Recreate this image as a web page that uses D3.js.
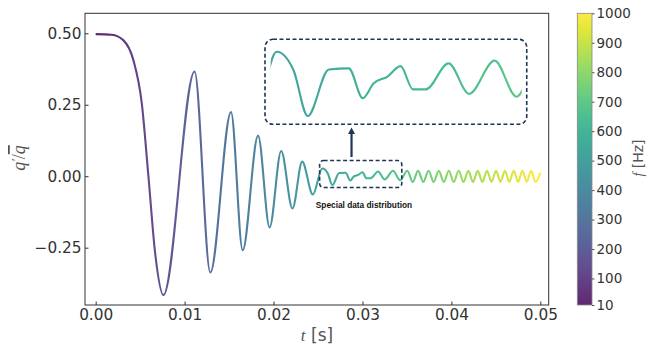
<!DOCTYPE html>
<html><head><meta charset="utf-8">
<script src="https://cdn.jsdelivr.net/npm/d3@7"></script>
<style>body{margin:0;background:#fff} svg{display:block}</style>
</head><body>
<svg id="chart" width="654" height="349"></svg>
<script>
// ---------- data ----------
const timeS = [
  0.0000, 0.0018, 0.0031, 0.00424, 0.00519, 0.00593, 0.00669, 0.00762,
  0.01112, 0.01289, 0.01522, 0.01653, 0.01826, 0.01956, 0.02086, 0.02213,
  0.02322, 0.02442, 0.02548, 0.02609, 0.02661, 0.02738, 0.02811, 0.02862,
  0.02902, 0.02951, 0.03000, 0.03045, 0.03092, 0.03175, 0.03250, 0.03343,
  0.03423, 0.03505, 0.03565, 0.03625, 0.03684, 0.03743, 0.03800, 0.03858,
  0.03914, 0.03971, 0.04026, 0.04082, 0.04136, 0.04190, 0.04243, 0.04296,
  0.04348, 0.04400, 0.04451, 0.04502, 0.04552, 0.04602, 0.04651, 0.04701,
  0.04750, 0.04799, 0.04848, 0.04896, 0.04945, 0.05000
];
const qRatio = [
  0.497, 0.495, 0.476, 0.406, 0.254, 0.000, -0.270, -0.416,
  0.366, -0.337, 0.224, -0.259, 0.142, -0.179, 0.088, -0.113,
  0.051, -0.064, 0.027, 0.0105, -0.031, 0.011, 0.012, -0.015,
  -0.0015, 0.0044, 0.014, -0.007, -0.007, 0.0165, -0.011, 0.019,
  -0.0136, 0.019, -0.020, 0.019, -0.020, 0.019, -0.020, 0.019,
  -0.020, 0.019, -0.020, 0.019, -0.020, 0.019, -0.020, 0.019,
  -0.020, 0.019, -0.020, 0.019, -0.020, 0.019, -0.020, 0.019,
  -0.020, 0.019, -0.020, 0.019, -0.020, 0.012
];
const xTicks = [0, 0.01, 0.02, 0.03, 0.04, 0.05];
const yTicks = [-0.25, 0, 0.25, 0.5];
const freqTicks = [10, 100, 200, 300, 400, 500, 600, 700, 800, 900, 1000];
const freqRange = [10, 1000];
const timeRange = [0, 0.05];
const zoomT = [0.02518, 0.03442];      // highlighted window (time)
const zoomQ = [-0.0395, 0.055];       // highlighted window (value)
const insetStartT = 0.02526;          // first time shown in the inset curve
const insetT = [0.01904, 0.04847];    // inset frame (main-axes data units)
const insetQ = [0.1815, 0.4788];
const insetCurveQ = [-0.031, 0.027];  // values spanned by the inset curve
const arrowT = 0.02877, arrowQ = [0.067, 0.170];
const noteT = 0.03017, noteQ = -0.111;
const noteText = "Special data distribution";

// ---------- layout ----------
const L = 85, R = 548.7, T = 13.3, B = 305;
const svg = d3.select("#chart");
const x = d3.scaleLinear().domain([-0.0012, 0.05094]).range([L, R]);
const y = d3.scaleLinear().domain([-0.4505, 0.5698]).range([B, T]);
const OPA = 0.85;
const data = timeS.map((t, i) => ({t, q: qRatio[i]}));

const defs = svg.append("defs");
function grad(id, x1, x2) {
  const g = defs.append("linearGradient").attr("id", id)
    .attr("gradientUnits", "userSpaceOnUse")
    .attr("x1", x1).attr("x2", x2).attr("y1", 0).attr("y2", 0);
  d3.range(0, 1.0001, 0.05).forEach(f => g.append("stop")
    .attr("offset", f).attr("stop-color", d3.interpolateViridis(f)));
}
grad("lineGrad", x(timeRange[0]), x(timeRange[1]));

// axes frame
svg.append("rect").attr("x", L).attr("y", T).attr("width", R - L).attr("height", B - T)
  .attr("fill", "none").attr("stroke", "#333").attr("stroke-width", 1);

const fontTick = "'DejaVu Sans', sans-serif";
const xAxis = svg.append("g").attr("transform", `translate(0,${B})`)
  .call(d3.axisBottom(x).tickValues(xTicks).tickFormat(d3.format(".2f")).tickSize(-3.5).tickPadding(4));
const yAxis = svg.append("g").attr("transform", `translate(${L},0)`)
  .call(d3.axisLeft(y).tickValues(yTicks).tickFormat(d3.format(".2f")).tickSize(-3.5).tickPadding(3.5));
[xAxis, yAxis].forEach(a => {
  a.select(".domain").remove();
  a.selectAll(".tick line").attr("stroke", "#333");
  a.selectAll(".tick text").attr("fill", "#333").style("font-family", fontTick).style("font-size", "15.3px");
});

// main curve
const line = d3.line().x(d => x(d.t)).y(d => y(d.q)).curve(d3.curveMonotoneX);
svg.append("path").datum(data).attr("d", line)
  .attr("fill", "none").attr("stroke", "url(#lineGrad)").attr("stroke-opacity", OPA)
  .attr("stroke-width", 2.1).attr("stroke-linejoin", "round");

// highlight window
const navy = "#1d3557";
svg.append("rect").attr("x", x(zoomT[0])).attr("y", y(zoomQ[1]))
  .attr("width", x(zoomT[1]) - x(zoomT[0])).attr("height", y(zoomQ[0]) - y(zoomQ[1]))
  .attr("rx", 4).attr("fill", "none").attr("stroke", navy).attr("stroke-width", 1.6)
  .attr("stroke-dasharray", "4,2.5");

// inset frame
const ix0 = x(insetT[0]), ix1 = x(insetT[1]), iy0 = y(insetQ[1]), iy1 = y(insetQ[0]);
svg.append("rect").attr("x", ix0).attr("y", iy0).attr("width", ix1 - ix0).attr("height", iy1 - iy0)
  .attr("rx", 8).attr("fill", "none").attr("stroke", navy).attr("stroke-width", 1.6)
  .attr("stroke-dasharray", "4,2.5");

// inset curve
const xi = d3.scaleLinear().domain(zoomT).range([ix0 + 3.5, ix1 - 5]);
const yi = d3.scaleLinear().domain(insetCurveQ).range([iy1 - 8.3, iy0 + 12.4]);
grad("insetGrad", xi(timeRange[0]), xi(timeRange[1]));
defs.append("clipPath").attr("id", "insetClip").append("rect")
  .attr("x", xi(insetStartT)).attr("y", iy0).attr("width", xi(zoomT[1]) - xi(insetStartT)).attr("height", iy1 - iy0);
const lineI = d3.line().x(d => xi(d.t)).y(d => yi(d.q)).curve(d3.curveMonotoneX);
svg.append("path").datum(data).attr("d", lineI).attr("clip-path", "url(#insetClip)")
  .attr("fill", "none").attr("stroke", "url(#insetGrad)").attr("stroke-opacity", OPA)
  .attr("stroke-width", 2.1).attr("stroke-linejoin", "round");

// arrow
const ax = x(arrowT), ayB = y(arrowQ[0]), ayT = y(arrowQ[1]);
svg.append("line").attr("x1", ax).attr("x2", ax).attr("y1", ayB).attr("y2", ayT + 5)
  .attr("stroke", navy).attr("stroke-width", 2.2);
svg.append("path").attr("d", `M${ax},${ayT} L${ax - 3.5},${ayT + 6.5} L${ax + 3.5},${ayT + 6.5} Z`)
  .attr("fill", navy);

// note
svg.append("text").attr("x", x(noteT)).attr("y", y(noteQ)).attr("text-anchor", "middle")
  .style("font-family", "'Liberation Sans', Arial, sans-serif").style("font-weight", "bold")
  .style("font-size", "8.3px").attr("fill", "#111").text(noteText);

// axis labels
const xl = svg.append("text").attr("x", 317).attr("y", 341).attr("text-anchor", "middle")
  .attr("fill", "#555").style("font-size", "17px");
xl.append("tspan").style("font-family", "'Liberation Serif', serif").style("font-style", "italic").text("t");
xl.append("tspan").style("font-family", fontTick).text(" [s]");

const yl = svg.append("text").attr("transform", "translate(25,158) rotate(-90)")
  .attr("text-anchor", "middle").attr("fill", "#555")
  .style("font-family", "'Liberation Serif', serif").style("font-style", "italic").style("font-size", "18px");
yl.append("tspan").text("q");
yl.append("tspan").attr("dy", -5).style("font-size", "12px").text("\u2032");
yl.append("tspan").attr("dy", 5).style("font-style", "normal").text("/");
yl.append("tspan").style("text-decoration", "overline").text("q");

// colorbar
const CB = {x: 577.3, w: 14.7};
const cy = d3.scaleLinear().domain(freqRange).range([B, T]);
const cg = defs.append("linearGradient").attr("id", "cbGrad").attr("x1", 0).attr("x2", 0).attr("y1", 1).attr("y2", 0);
d3.range(0, 1.0001, 0.05).forEach(f => cg.append("stop").attr("offset", f).attr("stop-color", d3.interpolateViridis(f)));
svg.append("rect").attr("x", CB.x).attr("y", T).attr("width", CB.w).attr("height", B - T)
  .attr("fill", "url(#cbGrad)").attr("fill-opacity", OPA);
svg.append("rect").attr("x", CB.x).attr("y", T).attr("width", CB.w).attr("height", B - T)
  .attr("fill", "none").attr("stroke", "#888").attr("stroke-width", 0.8);
const cAxis = svg.append("g").attr("transform", `translate(${CB.x + CB.w},0)`)
  .call(d3.axisRight(cy).tickValues(freqTicks).tickFormat(d3.format("d")).tickSize(2.5).tickPadding(2));
cAxis.select(".domain").remove();
cAxis.selectAll(".tick line").attr("stroke", "#555");
cAxis.selectAll(".tick text").attr("fill", "#333").style("font-family", fontTick).style("font-size", "13.5px");

const cl = svg.append("text").attr("transform", "translate(643,158) rotate(-90)")
  .attr("text-anchor", "middle").attr("fill", "#555").style("font-size", "14px");
cl.append("tspan").style("font-family", "'Liberation Serif', serif").style("font-style", "italic").text("f");
cl.append("tspan").style("font-family", fontTick).text(" [Hz]");
</script>
</body></html>
